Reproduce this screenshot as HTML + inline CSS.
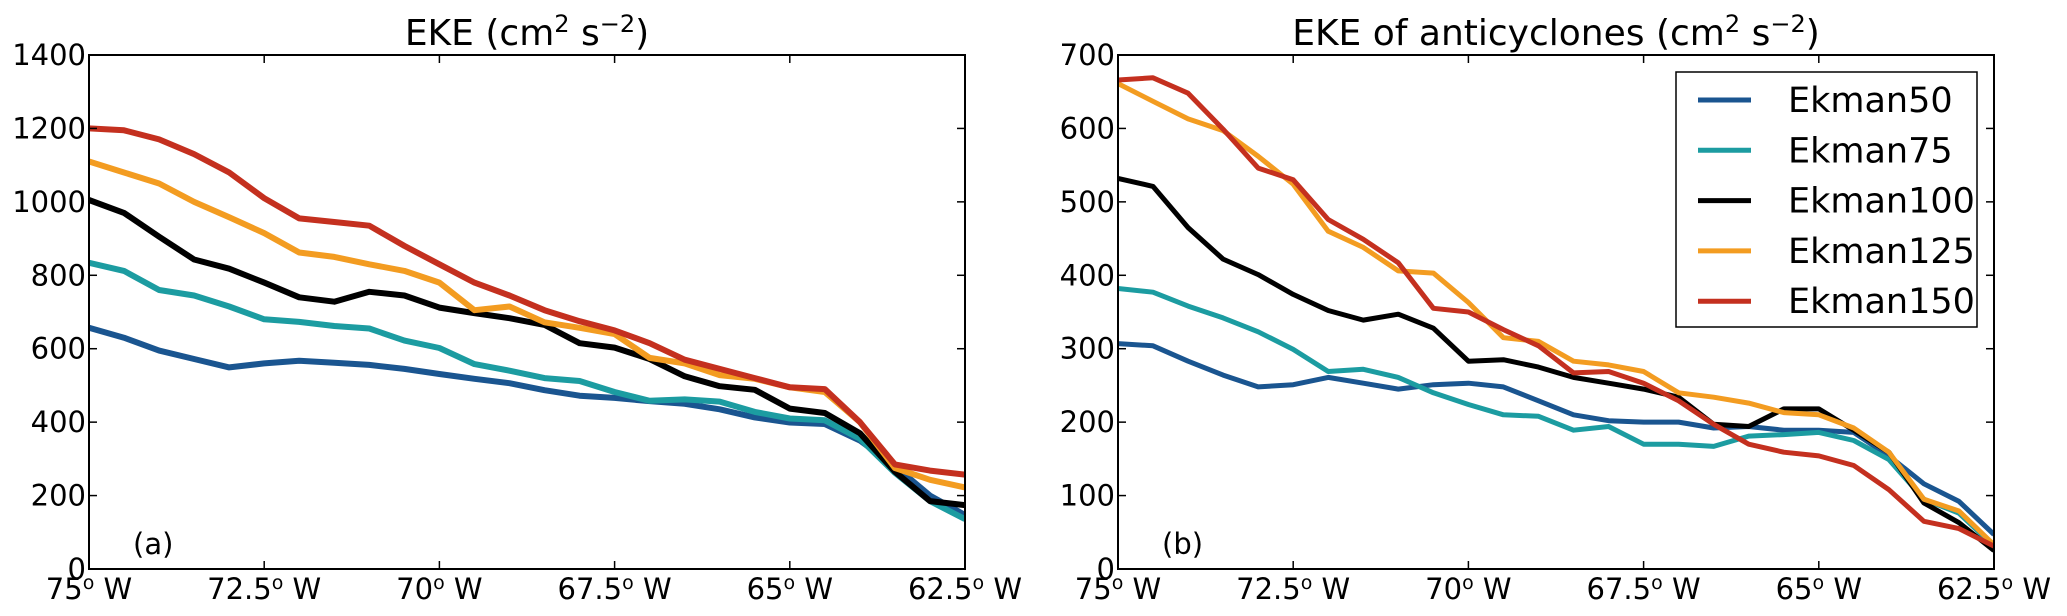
<!DOCTYPE html>
<html><head><meta charset="utf-8">
<style>
html,body{margin:0;padding:0;background:#fff;}
svg{display:block;font-family:"DejaVu Sans","Liberation Sans",sans-serif;}
</style></head>
<body>
<svg id="chart" width="2067" height="616" viewBox="0 0 2067 616"></svg>
<script>
const lons = [75,74.5,74,73.5,73,72.5,72,71.5,71,70.5,70,69.5,69,68.5,68,67.5,67,66.5,66,65.5,65,64.5,64,63.5,63,62.5];
const seriesNames = ["Ekman50","Ekman75","Ekman100","Ekman125","Ekman150"];
const seriesColors = ["#1a5590","#1c9ca1","#000000","#f39c21","#c4301f"];
// Panel (a) EKE
const ekeE50  = [657,630,595,572,549,560,567,562,556,545,531,518,506,487,472,466,457,450,435,413,399,395,350,280,200,147];
const ekeE75  = [834,812,760,745,715,680,673,662,655,622,602,558,540,520,512,482,458,462,456,428,410,405,355,262,185,136];
const ekeE100 = [1005,970,905,843,818,780,740,728,755,745,712,697,683,665,615,603,572,525,498,488,437,425,370,265,185,174];
const ekeE125 = [1110,1080,1050,1000,958,915,862,850,830,812,780,705,715,672,657,640,575,560,528,518,495,482,400,275,243,222];
const ekeE150 = [1200,1195,1170,1130,1080,1010,955,945,935,880,830,780,745,705,675,650,615,570,545,520,495,490,400,285,268,257];
// Panel (b) EKE of anticyclones
const antE50  = [307,304,283,264,248,251,261,253,245,251,253,248,229,210,202,200,200,192,194,189,189,186,154,116,92,47];
const antE75  = [382,377,358,342,323,299,269,272,261,240,224,210,208,189,194,170,170,167,181,183,186,175,149,95,76,31];
const antE100 = [532,521,465,422,401,374,352,339,347,328,283,285,275,261,253,245,234,197,194,218,218,189,159,90,63,25];
const antE125 = [661,637,613,597,562,524,460,438,406,403,363,315,310,283,278,269,240,234,226,213,210,192,159,95,79,33];
const antE150 = [666,669,648,599,546,530,476,449,417,355,350,326,304,267,269,253,229,197,170,159,154,141,108,65,55,31];
const xTicks = [75,72.5,70,67.5,65,62.5];
const yTicksA = [0,200,400,600,800,1000,1200,1400];
const yTicksB = [0,100,200,300,400,500,600,700];

const NS="http://www.w3.org/2000/svg";
const svg=document.getElementById('chart');
function mk(tag,attrs,parent){const e=document.createElementNS(NS,tag);for(const k in attrs)e.setAttribute(k,attrs[k]);(parent||svg).appendChild(e);return e;}

function panel(cfg){
  const {x0,x1,y0,y1,ymax,yTicks,series,title,label,key,lw}=cfg;
  const g=mk('g',{});
  
  
  const sx=lon=>x0+(75-lon)/12.5*(x1-x0);
  const sy=v=>y1-v/ymax*(y1-y0);
  const cp=mk('clipPath',{id:'clip-'+key},g);
  mk('rect',{x:x0,y:y0,width:x1-x0,height:y1-y0},cp);
  series.forEach((vals,i)=>{
    const d=vals.map((v,j)=>(j?'L':'M')+sx(lons[j]).toFixed(1)+','+sy(v).toFixed(1)).join(' ');
    const p=mk('path',{d:d,fill:'none',stroke:seriesColors[i],'stroke-width':lw,'stroke-linejoin':'round','clip-path':'url(#clip-'+key+')'},g);
    
    
  });
  const fr=mk('rect',{x:x0,y:y0,width:x1-x0,height:y1-y0,fill:'none',stroke:'#000','stroke-width':2},g);
  
  
  xTicks.forEach(t=>{
    const x=sx(t);
    mk('line',{x1:x,x2:x,y1:y1,y2:y1-8,stroke:'#000','stroke-width':1.5},g);
    mk('line',{x1:x,x2:x,y1:y0,y2:y0+8,stroke:'#000','stroke-width':1.5},g);
    const tx=mk('text',{x:x,y:599,'font-size':29,'text-anchor':'middle',fill:'#000'},g);
    
    
    const a=mk('tspan',{},tx);a.textContent=String(t);
    const b=mk('tspan',{dy:-10,'font-size':19},tx);b.textContent='o';
    const c=mk('tspan',{dy:10},tx);c.textContent=' W';
  });
  yTicks.forEach(t=>{
    const y=sy(t);
    mk('line',{x1:x0,x2:x0+8,y1:y,y2:y,stroke:'#000','stroke-width':1.5},g);
    mk('line',{x1:x1,x2:x1-8,y1:y,y2:y,stroke:'#000','stroke-width':1.5},g);
    const tx=mk('text',{x:x0-3,y:y+10,'font-size':29,'text-anchor':'end',fill:'#000'},g);
    
    
    tx.textContent=String(t);
  });
  const ti=mk('text',{x:(x0+x1)/2,y:45,'font-size':36,'text-anchor':'middle',fill:'#000'},g);
  
  
  const parts=[[title+' (cm',0,36],['2',-13,24],[' s',13,36],['\u22122',-13,24],[')',13,36]];
  parts.forEach(p=>{const s=mk('tspan',{dy:p[1],'font-size':p[2]},ti);s.textContent=p[0];});
  const lb=mk('text',{x:x0+44,y:y1-15,'font-size':29,fill:'#000'},g);
  
  
  lb.textContent=label;
}

panel({x0:89,x1:965,y0:55,y1:569,ymax:1400,yTicks:yTicksA,series:[ekeE50,ekeE75,ekeE100,ekeE125,ekeE150],title:'EKE',label:'(a)',key:'eke',lw:6});
panel({x0:1118,x1:1994,y0:55,y1:569,ymax:700,yTicks:yTicksB,series:[antE50,antE75,antE100,antE125,antE150],title:'EKE of anticyclones',label:'(b)',key:'anticyclone',lw:5});

const lg=mk('g',{});


mk('rect',{x:1676,y:72,width:301,height:255,fill:'#fff',stroke:'#000','stroke-width':1.5},lg);
seriesNames.forEach((n,i)=>{
  const y=100+i*50.3;
  const e=mk('g',{},lg);
  
  
  mk('line',{x1:1698,x2:1751,y1:y,y2:y,stroke:seriesColors[i],'stroke-width':5},e);
  const t=mk('text',{x:1788,y:y+12,'font-size':35,fill:'#000'},e);
  t.textContent=n;
});
</script>
</body></html>
